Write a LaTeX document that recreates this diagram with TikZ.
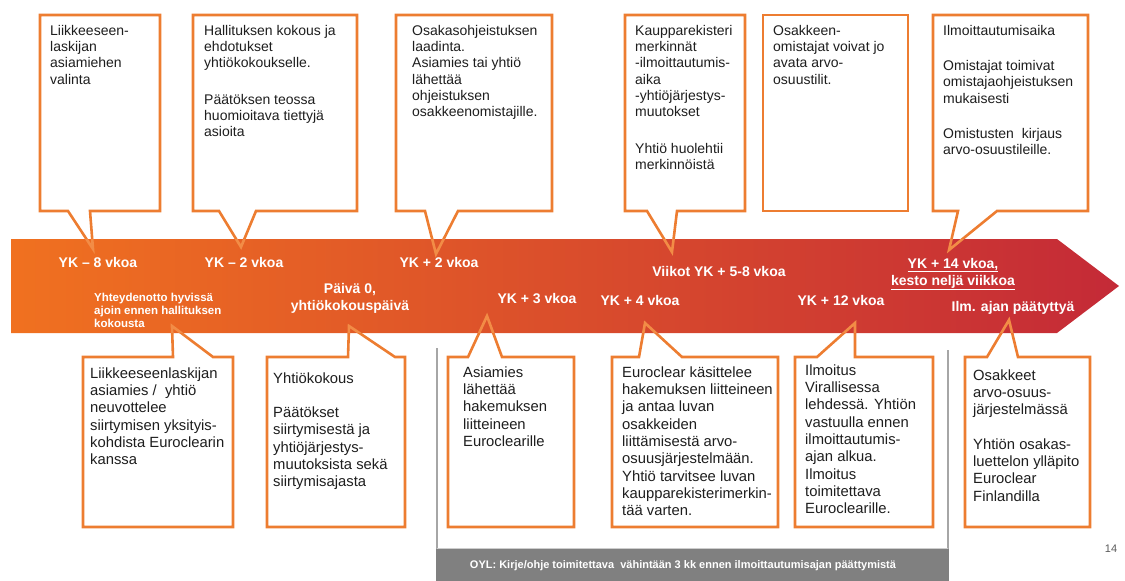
\documentclass[tikz,border=0pt]{standalone}
\usepackage{fontspec}
\setmainfont{Liberation Sans}
\definecolor{calloutline}{RGB}{237,125,49}
\definecolor{calloutpale}{RGB}{242,140,70}
\definecolor{bandleft}{RGB}{240,113,32}
\definecolor{bandright}{RGB}{196,42,55}
\definecolor{bodytext}{RGB}{30,30,30}
\definecolor{framegray}{RGB}{166,166,166}
\definecolor{bargray}{RGB}{128,128,128}
\definecolor{barlight}{RGB}{205,205,205}
\definecolor{pagegray}{RGB}{90,90,90}
\newcommand\capstrut{\rule{0pt}{11pt}}
\begin{document}
\begin{tikzpicture}[x=1pt,y=-1pt,
  callout/.style={draw=calloutline, line width=2.6pt, line join=miter, fill=white},
  calloutedge/.style={draw=calloutpale, line width=2.6pt, line join=miter},
  toptext/.style={anchor=north west, inner sep=0pt, align=left, text=bodytext,
    font=\fontsize{14}{16.3}\selectfont},
  bottext/.style={anchor=north west, inner sep=0pt, align=left, text=bodytext,
    font=\fontsize{14.8}{17.3}\selectfont},
  milestone/.style={inner sep=0pt, text=white, align=center,
    font=\bfseries\fontsize{14}{17}\selectfont},
  smallnote/.style={anchor=west, inner sep=0pt, text=white, align=left,
    font=\bfseries\fontsize{11.5}{13}\selectfont},
  bartext/.style={inner sep=0pt, text=white, font=\bfseries\fontsize{11}{13}\selectfont},
  pagenum/.style={inner sep=0pt, text=pagegray, font=\fontsize{11}{13}\selectfont}
]
\useasboundingbox (0,0) rectangle (1125,581);

% ---- callouts above the time line ----
\path[callout] (40,15) -- (160,15) -- (160,211) -- (90,211) -- (93,249) -- (68,211) -- (40,211) -- cycle;
\path[callout] (193,15) -- (357,15) -- (357,211) -- (256,211) -- (241,247) -- (219,211) -- (193,211) -- cycle;
\path[callout] (396,15) -- (552,15) -- (552,211) -- (458,211) -- (436,254) -- (425,211) -- (396,211) -- cycle;
\path[callout] (625,15) -- (745,15) -- (745,211) -- (677,211) -- (672,252) -- (647,211) -- (625,211) -- cycle;
\path[callout] (763,15) rectangle (908,211);
\path[callout] (933,15) -- (1088,15) -- (1088,211) -- (997,211) -- (949,250) -- (958,211) -- (933,211) -- cycle;

% ---- callouts below the time line ----
\path[callout] (83,357) -- (173,357) -- (172,326) -- (213,357) -- (233,357) -- (233,527) -- (83,527) -- cycle;
\path[callout] (267,357) -- (348,357) -- (349,326) -- (395,357) -- (405,357) -- (405,527) -- (267,527) -- cycle;
\path[callout] (448,357) -- (468,357) -- (487,316) -- (502,357) -- (574,357) -- (574,527) -- (448,527) -- cycle;
\path[callout] (612,357) -- (639,357) -- (645,323) -- (682,357) -- (778,357) -- (778,527) -- (612,527) -- cycle;
\path[callout] (795,357) -- (817,357) -- (855,323) -- (855,357) -- (933,357) -- (933,527) -- (795,527) -- cycle;
\path[callout] (965,357) -- (987,357) -- (1009,320) -- (1018,357) -- (1090,357) -- (1090,527) -- (965,527) -- cycle;

% ---- time line arrow ----
\shade[left color=bandleft, right color=bandright]
  (11,239) -- (1057,239) -- (1119,286) -- (1057,333) -- (11,333) -- cycle;

% pointer edges that run across the arrow
\begin{scope}
  \clip (11,239) -- (1057,239) -- (1119,286) -- (1057,333) -- (11,333) -- cycle;
  \draw[calloutedge] (68,211) -- (93,249) -- (90,211);
  \draw[calloutedge] (219,211) -- (241,247) -- (256,211);
  \draw[calloutedge] (425,211) -- (436,254) -- (458,211);
  \draw[calloutedge] (647,211) -- (672,252) -- (677,211);
  \draw[calloutedge] (958,211) -- (949,250) -- (997,211);
  \draw[calloutedge] (173,357) -- (172,326) -- (213,357);
  \draw[calloutedge] (348,357) -- (349,326) -- (395,357);
  \draw[calloutedge] (468,357) -- (487,316) -- (502,357);
  \draw[calloutedge] (639,357) -- (645,323) -- (682,357);
  \draw[calloutedge] (817,357) -- (855,323) -- (855,357);
  \draw[calloutedge] (987,357) -- (1009,320) -- (1018,357);
\end{scope}

% ---- milestone labels on the arrow ----
\node[milestone] (m1) at (98,262) {YK – 8 vkoa};
\node[milestone] (m2) at (244,262) {YK – 2 vkoa};
\node[milestone] (m3) at (439,262) {YK + 2 vkoa};
\node[milestone] (m4) at (719,271) {Viikot YK + 5-8 vkoa};
\node[milestone] (m5) at (953,274) {\underline{YK + 14 vkoa,}\\\underline{kesto neljä viikkoa}};
\node[milestone] (m6) at (350,298) {Päivä 0,\\yhtiökokouspäivä};
\node[milestone] (m7) at (537,299) {YK + 3 vkoa};
\node[milestone] (m8) at (640,300) {YK + 4 vkoa};
\node[milestone] (m9) at (841,300) {YK + 12 vkoa};
\node[milestone] (m10) at (1013,308) {Ilm. ajan päätyttyä};
\node[smallnote] (n1) at (94,310) {Yhteydenotto hyvissä\\ajoin ennen hallituksen\\kokousta};

% ---- texts of the upper callouts ----
\node[toptext] (t1) at (50,24) {\capstrut Liikkeeseen-\\laskijan\\asiamiehen\\valinta};
\node[toptext] (t2) at (204,24) {\capstrut Hallituksen kokous ja\\ehdotukset\\yhtiökokoukselle.\\[20pt]Päätöksen teossa\\huomioitava tiettyjä\\asioita};
\node[toptext] (t3) at (412,24) {\capstrut Osakasohjeistuksen\\laadinta.\\Asiamies tai yhtiö\\lähettää\\ohjeistuksen\\osakkeenomistajille.};
\node[toptext] (t4) at (635,24) {\capstrut Kaupparekisteri\\merkinnät\\-ilmoittautumis-\\aika\\-yhtiöjärjestys-\\muutokset\\[20pt]Yhtiö huolehtii\\merkinnöistä};
\node[toptext] (t5) at (773,24) {\capstrut Osakkeen-\\omistajat voivat jo\\avata arvo-\\osuustilit.};
\node[toptext] (t6) at (943,24) {\capstrut Ilmoittautumisaika\\[19pt]Omistajat toimivat\\omistajaohjeistuksen\\mukaisesti\\[19pt]Omistusten\ \ kirjaus\\arvo-osuustileille.};

% ---- texts of the lower callouts ----
\node[bottext] (b1) at (90,367) {\capstrut Liikkeeseenlaskijan\\asiamies /\ \ yhtiö\\neuvottelee\\siirtymisen yksityis-\\kohdista Euroclearin\\kanssa};
\node[bottext] (b2) at (273,372) {\capstrut Yhtiökokous\\[17pt]Päätökset\\siirtymisestä ja\\yhtiöjärjestys-\\muutoksista sekä\\siirtymisajasta};
\node[bottext] (b3) at (463,366) {\capstrut Asiamies\\lähettää\\hakemuksen\\liitteineen\\Euroclearille};
\node[bottext] (b4) at (622,366) {\capstrut Euroclear käsittelee\\hakemuksen liitteineen\\ja antaa luvan\\osakkeiden\\liittämisestä arvo-\\osuusjärjestelmään.\\Yhtiö tarvitsee luvan\\kaupparekisterimerkin-\\tää varten.};
\node[bottext] (b5) at (805,364) {\capstrut Ilmoitus\\Virallisessa\\lehdessä. Yhtiön\\vastuulla ennen\\ilmoittautumis-\\ajan alkua.\\Ilmoitus\\toimitettava\\Euroclearille.};
\node[bottext] (b6) at (973,369) {\capstrut Osakkeet\\arvo-osuus-\\järjestelmässä\\[17pt]Yhtiön osakas-\\luettelon ylläpito\\Euroclear\\Finlandilla};

% ---- legal note frame ----
\draw[framegray, line width=1.5pt] (437,348) -- (437,549);
\draw[framegray, line width=1.5pt] (948,350) -- (948,549);
\fill[bargray] (436,549) rectangle (949,581);
\draw[barlight, line width=1pt] (437,548.5) -- (948,548.5);
\node[bartext] (oyl) at (683,566) {OYL: Kirje/ohje toimitettava\ \ vähintään 3 kk ennen ilmoittautumisajan päättymistä};

\node[pagenum] (pg) at (1111,549) {14};
\end{tikzpicture}
\end{document}
